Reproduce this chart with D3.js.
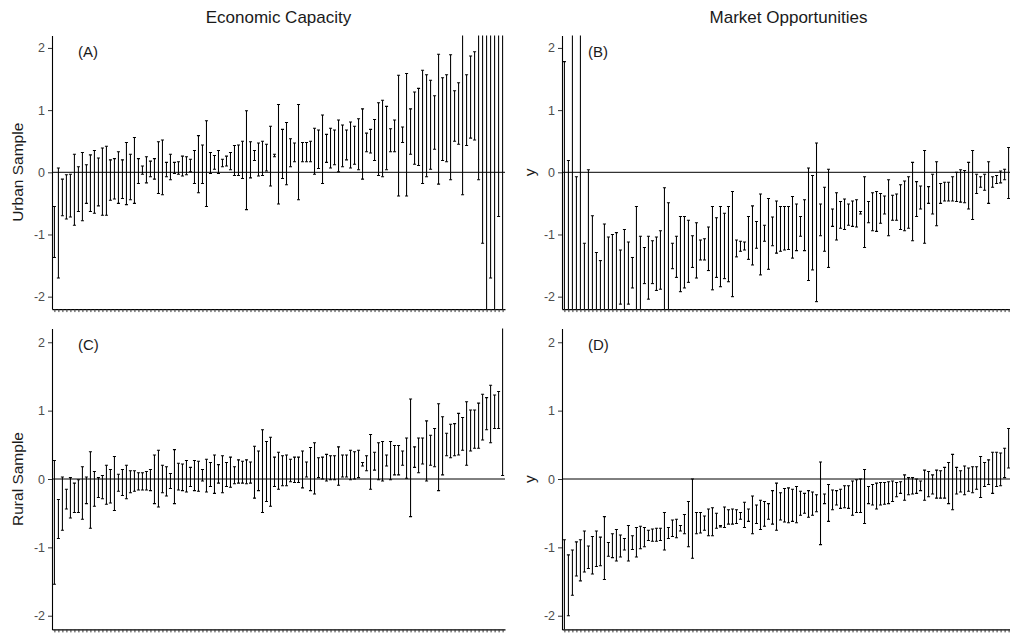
<!DOCTYPE html>
<html>
<head>
<meta charset="utf-8">
<script src="https://cdn.jsdelivr.net/npm/d3@7"></script>
<style>
  body { margin: 0; background: #fff; }
  svg { display: block; font-family: "Liberation Sans", Arial, sans-serif; }
</style>
</head>
<body>
<svg id="chart" width="1010" height="633"></svg>
<script>
// Titles and labels
const columnTitles = ["Economic Capacity", "Market Opportunities"];
const rowTitles = ["Urban Sample", "Rural Sample"];
const rightAxisTitle = "y";
const panelTags = ["(A)", "(B)", "(C)", "(D)"];
const yTicks = [-2, -1, 0, 1, 2];
const yDomain = [-2.2, 2.2];

// (A) Urban sample, economic capacity: interval bounds per unit (sorted by estimate)
const aLow = [-1.37,-1.70,-0.70,-0.75,-0.72,-0.85,-0.63,-0.78,-0.50,-0.63,
  -0.66,-0.54,-0.69,-0.69,-0.45,-0.43,-0.50,-0.42,-0.52,-0.44,
  -0.50,-0.18,-0.03,-0.17,-0.07,-0.11,-0.34,-0.36,-0.07,-0.12,
  -0.02,-0.03,-0.06,-0.04,0.01,-0.18,-0.33,-0.18,-0.55,-0.02,
  0.05,-0.02,0.09,0.10,0.04,-0.05,-0.05,-0.10,-0.60,-0.09,
  0.19,-0.06,-0.05,0.02,-0.22,0.25,-0.51,-0.10,-0.20,0.09,
  0.17,-0.44,0.17,0.17,0.17,-0.03,0.06,-0.18,0.16,0.07,
  0.12,0.01,0.09,0.20,0.07,0.13,0.04,-0.11,0.33,0.31,
  0.19,-0.05,-0.07,0.04,0.33,0.33,-0.38,0.48,-0.38,0.29,
  0.13,0.11,-0.18,-0.07,0.05,0.37,-0.19,0.19,0.17,-0.12,
  0.50,0.45,-0.36,0.43,0.55,0.52,-0.12,-1.14,-3.0,-1.70,
  -3.5,-0.71,-4.0];
const aHigh = [-0.55,0.07,-0.11,-0.04,-0.03,0.29,0.09,0.32,0.12,0.28,
  0.35,0.23,0.39,0.42,0.20,0.22,0.33,0.20,0.48,0.29,
  0.56,0.22,0.10,0.25,0.18,0.22,0.49,0.52,0.16,0.29,
  0.16,0.17,0.26,0.25,0.21,0.35,0.59,0.44,0.83,0.32,
  0.27,0.35,0.21,0.26,0.32,0.43,0.44,0.50,0.99,0.49,
  0.35,0.47,0.50,0.45,0.74,0.29,1.09,0.69,0.80,0.54,
  0.47,1.09,0.48,0.48,0.50,0.71,0.68,0.92,0.61,0.71,
  0.68,0.84,0.76,0.68,0.81,0.74,0.86,1.02,0.63,0.69,
  0.85,1.12,1.16,1.06,0.70,0.84,1.56,0.73,1.59,1.02,
  1.29,1.35,1.64,1.57,1.48,1.23,1.90,1.52,1.57,1.89,
  1.31,1.44,2.6,1.57,1.87,1.94,2.5,3.0,4.0,3.5,
  4.0,3.0,5.0];

// (B) Urban sample, market opportunities
const bLow = [-3.0,-3.0,-4.0,-3.0,-4.0,-3.0,-3.0,-2.6,-2.5,-2.4,
  -2.6,-2.4,-2.3,-2.3,-2.12,-2.3,-2.12,-1.86,-2.4,-2.3,
  -1.79,-2.04,-1.79,-1.90,-1.88,-2.5,-2.3,-1.55,-1.69,-1.92,
  -1.86,-1.77,-1.53,-1.70,-1.41,-1.41,-1.58,-1.89,-1.69,-1.84,
  -1.71,-1.76,-2.00,-1.36,-1.27,-1.25,-1.40,-1.49,-1.22,-1.65,
  -1.11,-1.56,-1.18,-1.30,-1.27,-1.25,-1.24,-1.38,-1.26,-1.03,
  -1.26,-1.74,-1.57,-2.08,-1.02,-1.27,-1.53,-0.87,-1.09,-0.90,
  -0.92,-0.85,-0.87,-0.88,-0.67,-1.21,-0.81,-0.94,-0.95,-0.82,
  -0.67,-1.02,-0.77,-0.77,-0.92,-0.94,-0.90,-1.10,-0.71,-0.59,
  -1.14,-0.50,-0.67,-0.86,-0.50,-0.46,-0.46,-0.46,-0.47,-0.48,
  -0.49,-0.59,-0.76,-0.34,-0.24,-0.29,-0.50,-0.24,-0.18,-0.17,
  -0.12,-0.42,-0.10];
const bHigh = [1.78,0.19,3.0,-0.07,3.5,-1.14,0.04,-0.70,-1.29,-1.42,
  -0.83,-1.04,-1.00,-0.97,-1.25,-0.92,-1.12,-1.37,-0.55,-1.03,
  -1.21,-1.03,-1.10,-1.04,-0.94,-0.25,-0.49,-1.14,-1.03,-0.71,
  -0.71,-0.77,-1.02,-0.81,-1.09,-1.07,-0.88,-0.55,-0.73,-0.55,
  -0.66,-0.55,-0.31,-1.09,-1.11,-1.12,-0.71,-0.54,-0.79,-0.35,
  -0.85,-0.42,-0.72,-0.46,-0.55,-0.55,-0.55,-0.39,-0.51,-0.71,
  -0.44,0.07,-0.05,0.47,-0.51,-0.24,0.05,-0.59,-0.33,-0.47,
  -0.43,-0.51,-0.46,-0.44,-0.63,-0.07,-0.47,-0.33,-0.31,-0.34,
  -0.38,-0.12,-0.37,-0.35,-0.20,-0.14,-0.07,0.16,-0.15,-0.22,
  0.35,-0.23,-0.03,0.17,-0.18,-0.16,-0.16,-0.07,0.00,0.04,
  0.03,0.16,0.35,-0.03,-0.07,-0.03,0.17,-0.07,-0.05,0.02,
  0.05,0.40,0.45];

// (C) Rural sample, economic capacity
const cLow = [-1.54,-0.87,-0.75,-0.44,-0.57,-0.49,-0.49,-0.59,-0.36,-0.72,
  -0.40,-0.27,-0.29,-0.37,-0.35,-0.46,-0.18,-0.24,-0.29,-0.20,
  -0.18,-0.16,-0.16,-0.16,-0.17,-0.36,-0.41,-0.20,-0.25,-0.14,
  -0.36,-0.16,-0.17,-0.19,-0.11,-0.17,-0.18,-0.03,-0.19,-0.11,
  -0.21,-0.06,-0.20,-0.11,-0.12,-0.07,-0.06,-0.06,-0.07,-0.06,
  -0.28,-0.17,-0.49,-0.33,-0.40,-0.11,-0.15,-0.10,-0.10,-0.04,
  -0.05,-0.05,-0.13,0.03,-0.17,-0.22,0.02,0.00,-0.03,-0.01,
  -0.01,-0.09,0.03,0.03,-0.01,0.00,0.02,0.19,0.12,-0.15,
  0.13,-0.01,-0.03,0.19,-0.01,0.06,0.06,0.20,0.01,-0.55,
  0.17,0.09,0.22,-0.03,0.20,0.18,-0.17,0.06,0.34,0.31,
  0.34,0.35,0.42,0.20,0.41,0.45,0.45,0.57,0.72,0.53,
  0.74,0.74,0.05];
const cHigh = [0.27,-0.30,0.03,-0.15,0.02,-0.06,-0.01,0.18,0.03,0.40,
  0.11,0.02,0.05,0.20,0.14,0.33,0.07,0.14,0.20,0.12,
  0.12,0.09,0.09,0.11,0.14,0.35,0.42,0.20,0.18,0.08,
  0.43,0.23,0.22,0.27,0.17,0.27,0.26,0.14,0.29,0.24,
  0.35,0.21,0.34,0.24,0.32,0.18,0.28,0.26,0.28,0.25,
  0.48,0.41,0.72,0.55,0.61,0.32,0.39,0.34,0.35,0.29,
  0.32,0.32,0.41,0.25,0.46,0.53,0.31,0.32,0.36,0.34,
  0.34,0.47,0.35,0.35,0.42,0.40,0.42,0.24,0.34,0.65,
  0.39,0.53,0.55,0.35,0.55,0.49,0.49,0.41,0.60,1.17,
  0.47,0.60,0.60,0.85,0.64,0.74,1.10,0.91,0.67,0.80,
  0.81,0.96,0.90,1.13,1.01,1.01,1.11,1.24,1.19,1.37,
  1.23,1.28,2.6];

// (D) Rural sample, market opportunities
const dLow = [-2.6,-2.00,-1.70,-1.42,-1.49,-1.36,-1.31,-1.39,-1.28,-1.27,
  -1.47,-1.13,-1.15,-1.20,-1.14,-1.04,-1.20,-1.03,-1.14,-1.02,
  -0.99,-0.90,-0.91,-0.91,-0.90,-1.04,-0.87,-0.84,-0.86,-0.76,
  -0.80,-0.99,-1.16,-0.80,-0.79,-0.75,-0.83,-0.83,-0.72,-0.70,
  -0.71,-0.66,-0.66,-0.65,-0.59,-0.71,-0.62,-0.80,-0.65,-0.74,
  -0.69,-0.59,-0.66,-0.75,-0.60,-0.63,-0.64,-0.62,-0.64,-0.53,
  -0.50,-0.56,-0.53,-0.48,-0.96,-0.36,-0.62,-0.45,-0.38,-0.43,
  -0.42,-0.43,-0.53,-0.49,-0.49,-0.65,-0.36,-0.38,-0.44,-0.38,
  -0.37,-0.36,-0.33,-0.26,-0.21,-0.31,-0.23,-0.22,-0.21,-0.17,
  -0.31,-0.26,-0.22,-0.28,-0.28,-0.28,-0.36,-0.45,-0.22,-0.19,
  -0.23,-0.18,-0.20,-0.15,-0.27,-0.11,-0.08,-0.21,-0.11,-0.10,
  0.02,0.16,0.20];
const dHigh = [-0.89,-1.11,-1.04,-0.92,-0.89,-0.76,-0.98,-0.84,-0.76,-0.85,
  -0.55,-0.93,-0.80,-0.74,-0.82,-0.87,-0.68,-0.83,-0.71,-0.69,
  -0.71,-0.75,-0.73,-0.72,-0.72,-0.49,-0.71,-0.60,-0.59,-0.68,
  -0.52,-0.33,0.00,-0.49,-0.49,-0.54,-0.44,-0.42,-0.50,-0.68,
  -0.41,-0.45,-0.44,-0.45,-0.49,-0.34,-0.44,-0.25,-0.38,-0.31,
  -0.33,-0.36,-0.17,-0.06,-0.20,-0.14,-0.13,-0.15,-0.11,-0.18,
  -0.21,-0.17,-0.19,-0.23,0.25,-0.22,-0.08,-0.16,-0.17,-0.15,
  -0.10,-0.10,-0.03,-0.01,0.00,0.14,-0.11,-0.08,-0.06,-0.05,
  -0.05,-0.04,-0.03,-0.05,-0.04,0.06,0.02,0.02,0.00,-0.03,
  0.13,0.11,0.06,0.13,0.12,0.17,0.24,0.36,0.17,0.12,
  0.19,0.16,0.18,0.18,0.33,0.24,0.28,0.39,0.39,0.38,
  0.45,0.74,0.80];

// Layout of the 2x2 grid (the right column runs slightly past the page edge)
const cols = [{ x0: 52, x1: 505 }, { x0: 562, x1: 1015 }];
const rows = [{ top: 35.5, bottom: 309.1 }, { top: 328.6, bottom: 629.4 }];

const panels = [
  { tag: panelTags[0], low: aLow, high: aHigh, col: 0, row: 0 },
  { tag: panelTags[1], low: bLow, high: bHigh, col: 1, row: 0 },
  { tag: panelTags[2], low: cLow, high: cHigh, col: 0, row: 1 },
  { tag: panelTags[3], low: dLow, high: dHigh, col: 1, row: 1 }
];

const svg = d3.select("#chart");
const defs = svg.append("defs");

panels.forEach((p, i) => {
  const c = cols[p.col], r = rows[p.row];
  const x = d3.scalePoint()
    .domain(d3.range(p.low.length))
    .range([c.x0, c.x1])
    .padding(0.6);
  const y = d3.scaleLinear().domain(yDomain).range([r.bottom, r.top]);

  const g = svg.append("g").attr("class", "panel");

  defs.append("clipPath").attr("id", "clip-" + i)
    .append("rect")
    .attr("x", c.x0).attr("y", r.top)
    .attr("width", c.x1 - c.x0).attr("height", r.bottom - r.top);

  const plot = g.append("g").attr("clip-path", `url(#clip-${i})`);

  // reference line at zero
  plot.append("line")
    .attr("x1", c.x0).attr("x2", c.x1)
    .attr("y1", y(0)).attr("y2", y(0))
    .attr("stroke", "#000").attr("stroke-width", 1);

  const rowsData = p.low.map((lo, k) => ({ k, lo, hi: p.high[k] }));
  const capHalf = x.step() * 0.38;

  const bars = plot.selectAll("g.bar").data(rowsData).join("g")
    .attr("class", "bar")
    .attr("stroke", "#000")
    .attr("stroke-width", 1.05)
    .attr("fill", "none");

  bars.append("line")
    .attr("x1", d => x(d.k)).attr("x2", d => x(d.k))
    .attr("y1", d => y(d.lo)).attr("y2", d => y(d.hi));
  bars.append("line")
    .attr("x1", d => x(d.k) - capHalf).attr("x2", d => x(d.k) + capHalf)
    .attr("y1", d => y(d.lo)).attr("y2", d => y(d.lo));
  bars.append("line")
    .attr("x1", d => x(d.k) - capHalf).attr("x2", d => x(d.k) + capHalf)
    .attr("y1", d => y(d.hi)).attr("y2", d => y(d.hi));

  // x axis: unlabeled unit ticks
  const xAxis = g.append("g")
    .attr("transform", `translate(0,${r.bottom})`)
    .call(d3.axisBottom(x).tickSize(3).tickSizeOuter(0).tickFormat(""));
  xAxis.select(".domain").attr("stroke", "#000").attr("stroke-width", 1.1);
  xAxis.selectAll(".tick line").attr("stroke", "#333");

  // y axis
  const yAxis = g.append("g")
    .attr("transform", `translate(${c.x0},0)`)
    .call(d3.axisLeft(y).tickValues(yTicks).tickSize(4).tickSizeOuter(0)
      .tickPadding(3).tickFormat(d => String(d)));
  yAxis.select(".domain").attr("stroke", "#000").attr("stroke-width", 1.1);
  yAxis.selectAll(".tick line").attr("stroke", "#333");
  yAxis.selectAll(".tick text")
    .attr("fill", "#4d4d4d")
    .style("font-size", "12.5px")
    .style("font-family", '"Liberation Sans", Arial, sans-serif');

  // panel tag
  g.append("text")
    .attr("x", c.x0 + 26).attr("y", r.top + 21)
    .attr("fill", "#1a1a1a")
    .style("font-size", "15px")
    .text(p.tag);
});

// column titles
columnTitles.forEach((t, j) => {
  svg.append("text")
    .attr("x", (cols[j].x0 + cols[j].x1) / 2)
    .attr("y", 23)
    .attr("text-anchor", "middle")
    .attr("fill", "#1a1a1a")
    .style("font-size", "17px")
    .text(t);
});

// row titles on the left, plain "y" on the right column
rowTitles.forEach((t, j) => {
  const cy = (rows[j].top + rows[j].bottom) / 2;
  svg.append("text")
    .attr("transform", `translate(23,${cy}) rotate(-90)`)
    .attr("text-anchor", "middle")
    .attr("fill", "#1a1a1a")
    .style("font-size", "15.5px")
    .text(t);
  svg.append("text")
    .attr("transform", `translate(535,${cy}) rotate(-90)`)
    .attr("text-anchor", "middle")
    .attr("fill", "#1a1a1a")
    .style("font-size", "15.5px")
    .text(rightAxisTitle);
});
</script>
</body>
</html>
